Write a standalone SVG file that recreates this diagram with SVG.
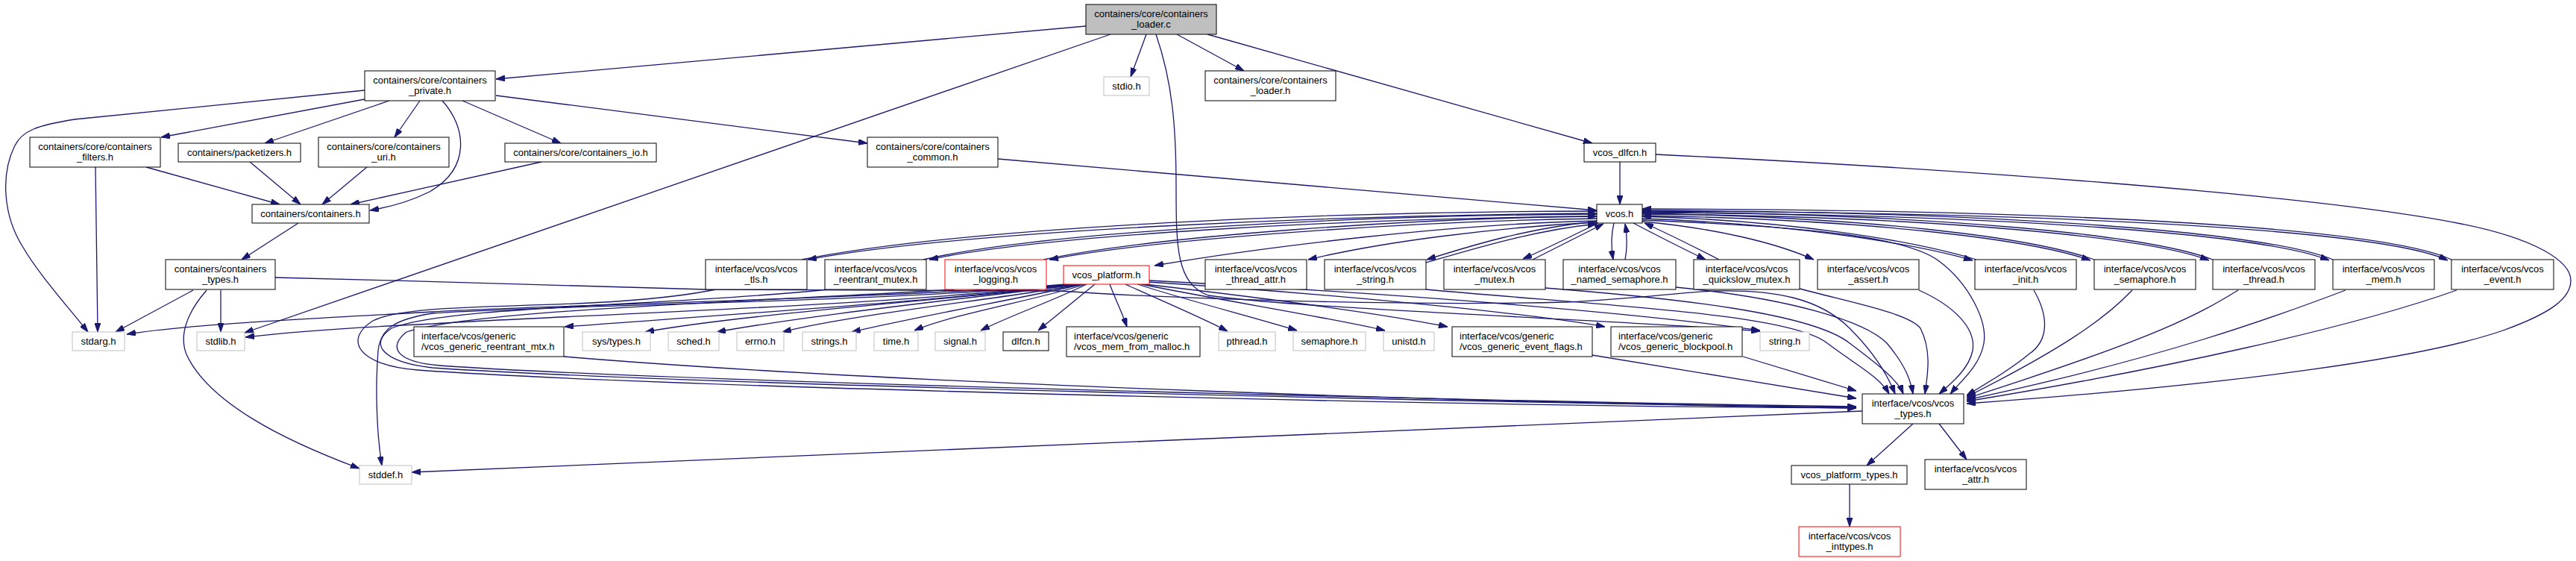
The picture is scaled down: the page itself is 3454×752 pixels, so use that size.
<svg xmlns="http://www.w3.org/2000/svg" width="3454" height="752" viewBox="0 0 3454 752">
<style>
.n rect{fill:#fff;stroke:#000;stroke-width:1}
.n.g rect{stroke:#bfbfbf}
.n.r rect{stroke:#ff0000}
.n.c rect{fill:#bfbfbf}
.n text{font-family:"Liberation Sans",Arial,sans-serif;font-size:13px;fill:#000;text-anchor:middle}
.n text.l{text-anchor:start}
#edges path{fill:none;stroke:#191970;stroke-width:1.3;marker-end:url(#a)}
</style>
<defs>
<marker id="a" viewBox="0 0 12 8" refX="12" refY="4" markerWidth="12" markerHeight="8" markerUnits="userSpaceOnUse" orient="auto"><path d="M0,0 L12,4 L0,8 z" fill="#191970" stroke="#191970" stroke-width="1"/></marker>
</defs>
<rect width="3454" height="752" fill="#fff"/>
<g id="edges">
<path d="M1456,35 L665,106"/>
<path d="M1489,46 L328,446"/>
<path d="M1537,46 L1516,103"/>
<path d="M1578,46 L1668,95"/>
<path d="M1619,46 L2135,192"/>
<path d="M1550,46 C1572,110 1577,170 1577,250 C1577,330 1577,380 1620,396 C1750,415 2200,430 2360,444"/>
<path d="M489,121 L100,160 C50,168 30,175 20,195 C0,235 5,290 30,330 C50,365 90,410 118,445"/>
<path d="M489,133 L216,184"/>
<path d="M522,135 L355,192"/>
<path d="M563,135 L529,184"/>
<path d="M593,135 C625,170 632,225 576,257 C550,270 520,278 496,282"/>
<path d="M620,135 L752,192"/>
<path d="M665,128 L1163,192"/>
<path d="M196,224 L375,274"/>
<path d="M128,224 L131,445"/>
<path d="M335,217 L403,274"/>
<path d="M492,224 L432,274"/>
<path d="M726,217 L470,274"/>
<path d="M400,299 L324,348"/>
<path d="M259,389 L155,445"/>
<path d="M296,389 L296,445"/>
<path d="M277,389 C250,420 240,450 250,475 C280,540 380,590 482,628"/>
<path d="M369,372 C600,378 900,385 946,388 L1420,390 C1600,402 1900,410 2100,405 C2200,400 2250,392 2300,390 C2380,388 2440,400 2480,440 C2510,470 2530,500 2541,528"/>
<path d="M1338,213 L2141,282"/>
<path d="M2172,217 L2172,274"/>
<path d="M2220,207 C2600,225 3100,260 3300,300 C3400,320 3447,350 3447,376 C3447,400 3420,420 3356,443 C3250,480 3000,515 2637,541"/>
<path d="M2202,295 C2450,305 2560,320 2600,350 C2640,380 2665,430 2660,460 C2655,490 2630,510 2615,528"/>
<path d="M2141,286 C1800,288 1300,308 1083,348"/>
<path d="M1075,348 C1300,303 1800,283 2141,283"/>
<path d="M2141,290 C1800,293 1400,315 1246,348"/>
<path d="M1238,348 C1400,311 1800,289 2141,287"/>
<path d="M2141,293 C1900,296 1550,320 1407,348"/>
<path d="M1399,348 C1550,316 1900,292 2141,290"/>
<path d="M2141,296 C1950,300 1700,330 1548,356"/>
<path d="M2141,298 C2000,305 1850,325 1754,348"/>
<path d="M2141,297 C2050,305 1970,330 1913,348"/>
<path d="M1912,352 C1975,334 2055,309 2141,300"/>
<path d="M2143,299 C2100,320 2070,335 2042,347"/>
<path d="M2055,348 C2090,330 2120,315 2150,300"/>
<path d="M2164,299 C2160,315 2160,330 2163,348"/>
<path d="M2179,348 C2182,333 2182,318 2179,300"/>
<path d="M2190,299 C2230,320 2260,335 2287,348"/>
<path d="M2305,348 C2270,330 2240,315 2205,299"/>
<path d="M2202,297 C2300,306 2380,325 2432,348"/>
<path d="M2202,293 C2400,300 2560,325 2645,349"/>
<path d="M2650,348 C2560,321 2400,296 2202,290"/>
<path d="M2202,289 C2500,294 2720,320 2803,349"/>
<path d="M2808,348 C2720,317 2500,291 2202,286"/>
<path d="M2202,287 C2600,290 2880,318 2962,349"/>
<path d="M2967,348 C2880,315 2600,287 2202,284"/>
<path d="M2202,285 C2700,287 3040,315 3123,349"/>
<path d="M3128,348 C3040,312 2700,284 2202,282"/>
<path d="M2202,283 C2800,285 3200,310 3282,349"/>
<path d="M3287,348 C3200,307 2800,281 2202,280"/>
<path d="M960,388 C800,420 560,400 500,430 C460,455 480,490 560,496 C900,520 2000,545 2489,547"/>
<path d="M1110,388 C900,410 600,410 525,440 C495,460 510,485 580,493 C900,515 2000,540 2489,546"/>
<path d="M1280,388 C1000,405 640,415 545,445 C520,465 530,485 590,490 C900,512 2000,538 2489,545"/>
<path d="M1912,388 C2150,410 2400,420 2450,460 C2490,490 2520,505 2533,528"/>
<path d="M2072,386 C2250,400 2430,420 2480,460 C2520,490 2545,510 2552,528"/>
<path d="M2247,385 C2400,400 2500,430 2530,460 C2555,490 2562,510 2565,528"/>
<path d="M2413,387 C2480,405 2560,420 2575,440 C2590,470 2585,500 2581,528"/>
<path d="M2573,389 C2620,410 2650,440 2645,470 C2640,495 2615,515 2600,528"/>
<path d="M2727,389 C2745,420 2750,455 2720,475 C2700,492 2670,510 2637,530"/>
<path d="M2859,389 C2820,430 2760,470 2637,532"/>
<path d="M3001,389 C2950,420 2900,450 2637,534"/>
<path d="M3145,389 C3050,425 2900,480 2637,536"/>
<path d="M3294,389 C3150,440 2900,495 2637,538"/>
<path d="M2337,478 L2489,524"/>
<path d="M2135,476 L2489,534"/>
<path d="M756,478 C1200,515 2000,540 2489,547"/>
<path d="M2497,551 L552,633"/>
<path d="M2565,568 L2503,624"/>
<path d="M2600,568 L2637,616"/>
<path d="M2480,649 L2480,706"/>
<path d="M1430,381 C1200,400 700,410 580,418 C400,428 250,435 170,448"/>
<path d="M1432,381 C1200,410 700,425 580,434 C450,440 380,446 329,452"/>
<path d="M1435,381 C1200,405 700,410 580,420 C530,428 510,440 507,470 C503,520 505,580 512,624"/>
<path d="M1440,381 C1300,400 1000,420 757,438"/>
<path d="M1445,381 C1300,400 1000,420 865,445"/>
<path d="M1448,381 C1300,400 1100,420 961,445"/>
<path d="M1450,381 C1350,400 1150,420 1049,445"/>
<path d="M1452,381 C1370,400 1250,420 1142,445"/>
<path d="M1455,381 C1400,400 1280,420 1226,443"/>
<path d="M1457,381 C1420,400 1350,425 1315,443"/>
<path d="M1468,381 C1445,400 1420,420 1392,443"/>
<path d="M1488,381 C1495,400 1505,420 1511,438"/>
<path d="M1509,381 C1550,400 1610,425 1646,444"/>
<path d="M1525,381 C1600,405 1680,425 1739,443"/>
<path d="M1530,381 C1650,405 1780,425 1857,443"/>
<path d="M1535,381 C1700,400 1850,420 1941,438"/>
<path d="M1540,378 C1800,395 2050,420 2152,438"/>
<path d="M1541,376 C1900,395 2200,420 2360,443"/>
</g>
<g id="n_loader_c" class="n c"><rect x="1456" y="6" width="175" height="40"/><text x="1543.5" y="22.5">containers/core/containers</text><text x="1543.5" y="37">_loader.c</text></g>
<g id="n_private" class="n"><rect x="489" y="95" width="175" height="40"/><text x="576.5" y="111.5">containers/core/containers</text><text x="576.5" y="126">_private.h</text></g>
<g id="n_stdio" class="n g"><rect x="1480" y="103" width="61" height="25"/><text x="1510.5" y="120">stdio.h</text></g>
<g id="n_loader_h" class="n"><rect x="1616" y="95" width="175" height="40"/><text x="1703.5" y="111.5">containers/core/containers</text><text x="1703.5" y="126">_loader.h</text></g>
<g id="n_filters" class="n"><rect x="40" y="184" width="175" height="40"/><text x="127.5" y="200.5">containers/core/containers</text><text x="127.5" y="215">_filters.h</text></g>
<g id="n_packetizers" class="n"><rect x="239" y="192" width="164" height="25"/><text x="321" y="209">containers/packetizers.h</text></g>
<g id="n_uri" class="n"><rect x="427" y="184" width="175" height="40"/><text x="514.5" y="200.5">containers/core/containers</text><text x="514.5" y="215">_uri.h</text></g>
<g id="n_io" class="n"><rect x="677" y="192" width="203" height="25"/><text x="778.5" y="209">containers/core/containers_io.h</text></g>
<g id="n_common" class="n"><rect x="1163" y="184" width="175" height="40"/><text x="1250.5" y="200.5">containers/core/containers</text><text x="1250.5" y="215">_common.h</text></g>
<g id="n_vcos_dlfcn" class="n"><rect x="2124" y="192" width="96" height="25"/><text x="2172" y="209">vcos_dlfcn.h</text></g>
<g id="n_containers" class="n"><rect x="338" y="274" width="157" height="25"/><text x="416.5" y="291">containers/containers.h</text></g>
<g id="n_vcos" class="n"><rect x="2141" y="274" width="61" height="25"/><text x="2171.5" y="291">vcos.h</text></g>
<g id="n_ctypes" class="n"><rect x="222" y="348" width="147" height="40"/><text x="295.5" y="364.5">containers/containers</text><text x="295.5" y="379">_types.h</text></g>
<g id="n_tls" class="n"><rect x="946" y="348" width="136" height="40"/><text x="1014" y="364.5">interface/vcos/vcos</text><text x="1014" y="379">_tls.h</text></g>
<g id="n_reentrant_mutex" class="n"><rect x="1106" y="348" width="136" height="40"/><text x="1174" y="364.5">interface/vcos/vcos</text><text x="1174" y="379">_reentrant_mutex.h</text></g>
<g id="n_logging" class="n r"><rect x="1267" y="348" width="136" height="40"/><text x="1335" y="364.5">interface/vcos/vcos</text><text x="1335" y="379">_logging.h</text></g>
<g id="n_platform" class="n r"><rect x="1426" y="356" width="115" height="25"/><text x="1483.5" y="373">vcos_platform.h</text></g>
<g id="n_thread_attr" class="n"><rect x="1616" y="348" width="136" height="40"/><text x="1684" y="364.5">interface/vcos/vcos</text><text x="1684" y="379">_thread_attr.h</text></g>
<g id="n_vstring" class="n"><rect x="1776" y="348" width="136" height="40"/><text x="1844" y="364.5">interface/vcos/vcos</text><text x="1844" y="379">_string.h</text></g>
<g id="n_mutex" class="n"><rect x="1936" y="348" width="136" height="40"/><text x="2004" y="364.5">interface/vcos/vcos</text><text x="2004" y="379">_mutex.h</text></g>
<g id="n_named_sem" class="n"><rect x="2096" y="348" width="151" height="40"/><text x="2171.5" y="364.5">interface/vcos/vcos</text><text x="2171.5" y="379">_named_semaphore.h</text></g>
<g id="n_quickslow" class="n"><rect x="2271" y="348" width="142" height="40"/><text x="2342" y="364.5">interface/vcos/vcos</text><text x="2342" y="379">_quickslow_mutex.h</text></g>
<g id="n_assert" class="n"><rect x="2437" y="348" width="136" height="40"/><text x="2505" y="364.5">interface/vcos/vcos</text><text x="2505" y="379">_assert.h</text></g>
<g id="n_init" class="n"><rect x="2648" y="348" width="136" height="40"/><text x="2716" y="364.5">interface/vcos/vcos</text><text x="2716" y="379">_init.h</text></g>
<g id="n_vsemaphore" class="n"><rect x="2808" y="348" width="136" height="40"/><text x="2876" y="364.5">interface/vcos/vcos</text><text x="2876" y="379">_semaphore.h</text></g>
<g id="n_thread" class="n"><rect x="2967" y="348" width="137" height="40"/><text x="3035.5" y="364.5">interface/vcos/vcos</text><text x="3035.5" y="379">_thread.h</text></g>
<g id="n_mem" class="n"><rect x="3128" y="348" width="136" height="40"/><text x="3196" y="364.5">interface/vcos/vcos</text><text x="3196" y="379">_mem.h</text></g>
<g id="n_event" class="n"><rect x="3287" y="348" width="137" height="40"/><text x="3355.5" y="364.5">interface/vcos/vcos</text><text x="3355.5" y="379">_event.h</text></g>
<g id="n_stdarg" class="n g"><rect x="97" y="445" width="70" height="25"/><text x="132" y="462">stdarg.h</text></g>
<g id="n_stdlib" class="n g"><rect x="264" y="445" width="64" height="25"/><text x="296" y="462">stdlib.h</text></g>
<g id="n_gen_rmtx" class="n"><rect x="555" y="438" width="201" height="40"/><text class="l" x="565" y="454.5">interface/vcos/generic</text><text class="l" x="565" y="469">/vcos_generic_reentrant_mtx.h</text></g>
<g id="n_systypes" class="n g"><rect x="781" y="445" width="91" height="25"/><text x="826.5" y="462">sys/types.h</text></g>
<g id="n_sched" class="n g"><rect x="896" y="445" width="68" height="25"/><text x="930" y="462">sched.h</text></g>
<g id="n_errno" class="n g"><rect x="988" y="445" width="63" height="25"/><text x="1019.5" y="462">errno.h</text></g>
<g id="n_strings" class="n g"><rect x="1076" y="445" width="72" height="25"/><text x="1112" y="462">strings.h</text></g>
<g id="n_time" class="n g"><rect x="1172" y="445" width="59" height="25"/><text x="1201.5" y="462">time.h</text></g>
<g id="n_signal" class="n g"><rect x="1254" y="445" width="67" height="25"/><text x="1287.5" y="462">signal.h</text></g>
<g id="n_dlfcn" class="n"><rect x="1345" y="445" width="61" height="25"/><text x="1375.5" y="462">dlfcn.h</text></g>
<g id="n_malloc" class="n"><rect x="1430" y="438" width="179" height="40"/><text class="l" x="1440" y="454.5">interface/vcos/generic</text><text class="l" x="1440" y="469">/vcos_mem_from_malloc.h</text></g>
<g id="n_pthread" class="n g"><rect x="1634" y="445" width="76" height="25"/><text x="1672" y="462">pthread.h</text></g>
<g id="n_semaphore" class="n g"><rect x="1734" y="445" width="97" height="25"/><text x="1782.5" y="462">semaphore.h</text></g>
<g id="n_unistd" class="n g"><rect x="1855" y="445" width="68" height="25"/><text x="1889" y="462">unistd.h</text></g>
<g id="n_evflags" class="n"><rect x="1947" y="438" width="188" height="40"/><text class="l" x="1957" y="454.5">interface/vcos/generic</text><text class="l" x="1957" y="469">/vcos_generic_event_flags.h</text></g>
<g id="n_blockpool" class="n"><rect x="2160" y="438" width="176" height="40"/><text class="l" x="2170" y="454.5">interface/vcos/generic</text><text class="l" x="2170" y="469">/vcos_generic_blockpool.h</text></g>
<g id="n_string" class="n g"><rect x="2360" y="445" width="66" height="25"/><text x="2393" y="462">string.h</text></g>
<g id="n_vtypes" class="n"><rect x="2497" y="528" width="136" height="40"/><text x="2565" y="544.5">interface/vcos/vcos</text><text x="2565" y="559">_types.h</text></g>
<g id="n_stddef" class="n g"><rect x="482" y="624" width="70" height="25"/><text x="517" y="641">stddef.h</text></g>
<g id="n_ptypes" class="n"><rect x="2402" y="624" width="155" height="25"/><text x="2479.5" y="641">vcos_platform_types.h</text></g>
<g id="n_attr" class="n"><rect x="2581" y="616" width="136" height="40"/><text x="2649" y="632.5">interface/vcos/vcos</text><text x="2649" y="647">_attr.h</text></g>
<g id="n_inttypes" class="n r"><rect x="2412" y="706" width="136" height="40"/><text x="2480" y="722.5">interface/vcos/vcos</text><text x="2480" y="737">_inttypes.h</text></g>
</svg>
